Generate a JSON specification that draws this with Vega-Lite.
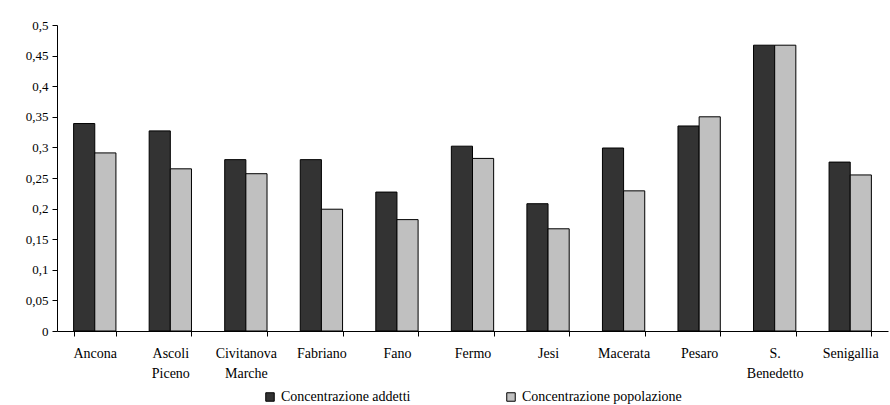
{
  "$schema": "https://vega.github.io/schema/vega-lite/v6.json",
  "width": 831,
  "height": 306,
  "autosize": {"type": "none"},
  "padding": {"left": 57, "top": 25, "right": 2, "bottom": 74},
  "background": "white",
  "config": {
    "view": {"stroke": null},
    "font": "Liberation Serif",
    "axis": {"labelColor": "#000000", "domainColor": "#000000", "tickColor": "#000000", "grid": false},
    "legend": {"layout": {"bottom": {"anchor": "middle"}}}
  },
  "data": {
    "values": [
      {"city": "Ancona", "series": "Concentrazione addetti", "value": 0.339},
      {"city": "Ancona", "series": "Concentrazione popolazione", "value": 0.291},
      {"city": "Ascoli Piceno", "series": "Concentrazione addetti", "value": 0.327},
      {"city": "Ascoli Piceno", "series": "Concentrazione popolazione", "value": 0.265},
      {"city": "Civitanova Marche", "series": "Concentrazione addetti", "value": 0.280},
      {"city": "Civitanova Marche", "series": "Concentrazione popolazione", "value": 0.257},
      {"city": "Fabriano", "series": "Concentrazione addetti", "value": 0.280},
      {"city": "Fabriano", "series": "Concentrazione popolazione", "value": 0.199},
      {"city": "Fano", "series": "Concentrazione addetti", "value": 0.227},
      {"city": "Fano", "series": "Concentrazione popolazione", "value": 0.182},
      {"city": "Fermo", "series": "Concentrazione addetti", "value": 0.302},
      {"city": "Fermo", "series": "Concentrazione popolazione", "value": 0.282},
      {"city": "Jesi", "series": "Concentrazione addetti", "value": 0.208},
      {"city": "Jesi", "series": "Concentrazione popolazione", "value": 0.167},
      {"city": "Macerata", "series": "Concentrazione addetti", "value": 0.299},
      {"city": "Macerata", "series": "Concentrazione popolazione", "value": 0.229},
      {"city": "Pesaro", "series": "Concentrazione addetti", "value": 0.335},
      {"city": "Pesaro", "series": "Concentrazione popolazione", "value": 0.350},
      {"city": "S. Benedetto", "series": "Concentrazione addetti", "value": 0.467},
      {"city": "S. Benedetto", "series": "Concentrazione popolazione", "value": 0.467},
      {"city": "Senigallia", "series": "Concentrazione addetti", "value": 0.276},
      {"city": "Senigallia", "series": "Concentrazione popolazione", "value": 0.255}
    ]
  },
  "mark": {"type": "bar", "stroke": "#000000", "strokeWidth": 1},
  "encoding": {
    "x": {
      "field": "city",
      "type": "nominal",
      "sort": null,
      "scale": {"paddingInner": 0.44, "paddingOuter": 0.22},
      "axis": {
        "title": null,
        "labelAngle": 0,
        "labelFont": "Liberation Serif",
        "labelFontSize": 14,
        "labelExpr": "split(datum.label, ' ')",
        "labelLineHeight": 20,
        "labelLimit": 0,
        "labelBaseline": "top",
        "labelPadding": 10,
        "tickSize": 5,
        "tickBand": "extent",
        "domainWidth": 1
      }
    },
    "xOffset": {"field": "series", "type": "nominal", "scale": {"paddingInner": 0, "paddingOuter": 0}},
    "y": {
      "field": "value",
      "type": "quantitative",
      "scale": {"domain": [0, 0.5], "nice": false},
      "axis": {
        "title": null,
        "values": [0, 0.05, 0.1, 0.15, 0.2, 0.25, 0.3, 0.35, 0.4, 0.45, 0.5],
        "labelExpr": "replace(format(datum.value, '.2~f'), '.', ',')",
        "labelFont": "Liberation Serif",
        "labelFontSize": 13,
        "labelPadding": 4,
        "tickSize": 5,
        "domainWidth": 1
      }
    },
    "fill": {
      "field": "series",
      "type": "nominal",
      "scale": {"range": ["#333333", "#c0c0c0"]},
      "legend": {
        "title": null,
        "orient": "bottom",
        "direction": "horizontal",
        "symbolType": "square",
        "symbolSize": 72,
        "symbolStrokeColor": "#000000",
        "symbolStrokeWidth": 1,
        "labelFont": "Liberation Serif",
        "labelFontSize": 14,
        "labelColor": "#000000",
        "columnPadding": 93,
        "offset": 10
      }
    }
  }
}
